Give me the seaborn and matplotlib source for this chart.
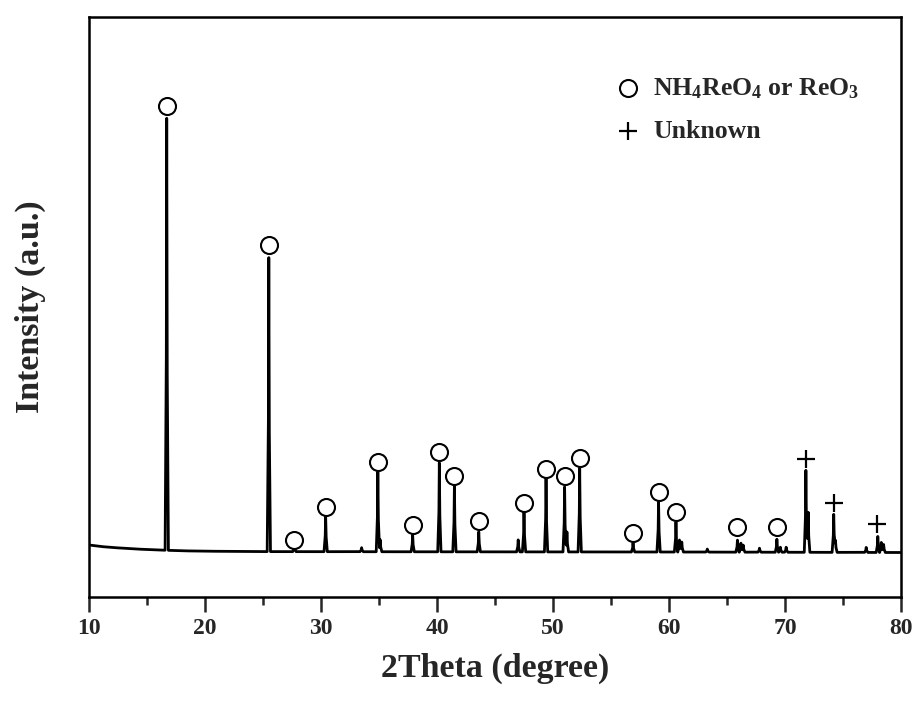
import numpy as np
import pandas as pd
import matplotlib
matplotlib.use("Agg")
import matplotlib.pyplot as plt
import seaborn as sns

# ---- data ----
peak_pos = [16.7, 25.5, 27.7, 30.4, 33.5, 34.9, 35.1, 37.9, 40.2, 41.5, 43.6, 47.0, 47.5,
            49.4, 51.0, 51.2, 52.3, 56.9, 59.1, 60.6, 60.9, 61.1, 63.3, 65.9, 66.2, 66.4,
            67.8, 69.3, 69.6, 70.1, 71.8, 72.0, 74.2, 74.35, 77.0, 78.0, 78.3, 78.5]
peak_int = [432, 294, 6, 36, 4, 80, 12, 17, 89, 66, 20, 12, 40,
            74, 65, 20, 84, 9, 50, 30, 12, 10, 3, 12, 9, 7,
            4, 13, 5, 5, 82, 40, 38, 12, 5, 16, 10, 8]
bg_x = [10, 11, 12, 14, 16, 18, 20, 25, 40, 60, 80]
bg_y = [7, 5.5, 4.5, 3.0, 2.0, 1.2, 0.8, 0.4, 0.2, 0.0, -0.5]

circle_pos = [16.7, 25.5, 27.7, 30.4, 34.9, 37.9, 40.2, 41.5, 43.6, 47.5, 49.4,
              51.0, 52.3, 56.9, 59.1, 60.6, 65.9, 69.3]
circle_int = [446, 307, 12, 45, 90, 27, 100, 76, 31, 49, 83, 76, 94, 19, 60, 40, 25, 25]
plus_pos = [71.8, 74.2, 77.9]
plus_int = [93, 49, 28]

xticks = [10, 20, 30, 40, 50, 60, 70, 80]

# ---- build curve ----
grid = np.linspace(10, 80, 14001)
w = 0.14
inten = np.interp(grid, bg_x, bg_y)
for p, h in zip(peak_pos, peak_int):
    inten = inten + np.interp(grid, [p - w, p - 0.035, p, p + 0.035, p + w], [0, h * 0.45, h, h * 0.45, 0])
df = pd.DataFrame({"two_theta": grid, "intensity": inten})

sns.set_theme(style="white")
plt.rcParams["font.family"] = ["Liberation Serif", "DejaVu Serif"]
plt.rcParams["font.weight"] = "bold"
plt.rcParams["mathtext.fontset"] = "custom"
plt.rcParams["mathtext.rm"] = "Liberation Serif:bold"
plt.rcParams["mathtext.it"] = "Liberation Serif:bold"
plt.rcParams["mathtext.bf"] = "Liberation Serif:bold"

fig = plt.figure(figsize=(9.17, 7.02), dpi=100)
ax = fig.add_axes([89 / 917, 105 / 702, 812 / 917, 580 / 702])

sns.lineplot(data=df, x="two_theta", y="intensity", color="black", linewidth=2.0, ax=ax,
             estimator=None, sort=False)

ax.scatter(circle_pos, circle_int, s=150, facecolors="white", edgecolors="black",
           linewidths=1.5, zorder=3)
ax.scatter(plus_pos, plus_int, s=170, marker="+", color="black", linewidths=1.6, zorder=3)

ax.set_xlim(10, 80)
ax.set_ylim(-45, 535)
ax.set_xticks(xticks)
ax.set_xticks([15, 25, 35, 45, 55, 65, 75], minor=True)
ax.set_yticks([])
ax.tick_params(axis="x", which="major", direction="out", length=11, width=1.8,
               labelsize=17, pad=4, bottom=True)
ax.tick_params(axis="x", which="minor", direction="out", length=6, width=1.8, bottom=True)
for lab in ax.get_xticklabels():
    lab.set_fontweight("bold")
for s in ax.spines.values():
    s.set_linewidth(1.8)
    s.set_color("black")

ax.set_xlabel("2Theta (degree)", fontsize=24.5, fontweight="bold", labelpad=10)
ax.set_ylabel("Intensity (a.u.)", fontsize=24.5, fontweight="bold", labelpad=31)

# legend (drawn as markers + text in axes coords)
ax.scatter([0.664], [0.878], s=150, facecolors="white", edgecolors="black",
           linewidths=1.5, transform=ax.transAxes, clip_on=False, zorder=4)
ax.text(0.695, 0.876, r"NH$_4$ReO$_4$ or ReO$_3$", transform=ax.transAxes,
        fontsize=18.5, fontweight="bold", va="center", ha="left")
ax.scatter([0.664], [0.803], s=170, marker="+", color="black", linewidths=1.6,
           transform=ax.transAxes, clip_on=False, zorder=4)
ax.text(0.695, 0.803, "Unknown", transform=ax.transAxes,
        fontsize=18.5, fontweight="bold", va="center", ha="left")

fig.savefig("out.png", dpi=100)
